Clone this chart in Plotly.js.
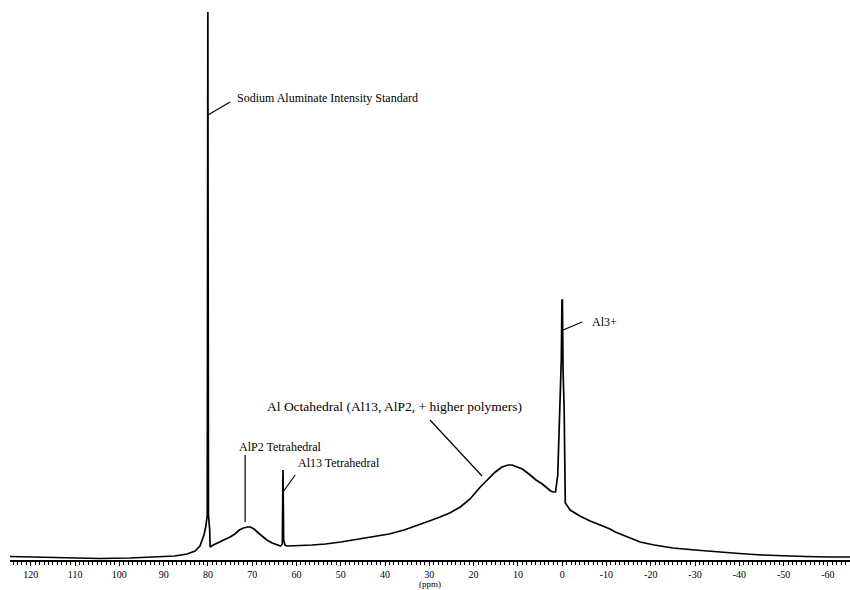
<!DOCTYPE html>
<html>
<head>
<meta charset="utf-8">
<script src="https://cdn.plot.ly/plotly-3.0.1.min.js"></script>
<style>html,body{margin:0;padding:0;background:#fff;}#chart{width:850px;height:590px;}</style>
</head>
<body>
<div id="chart"></div>
<script>
// Chemical shift (ppm) of the 27Al NMR spectrum
const ppm = [124.7,118.0,111.2,104.4,97.6,90.8,87.5,84.7,82.9,81.8,81.1,80.9,80.5,80.15,80.02,79.88,79.6,79.5,78.8,77.3,75.9,75.0,73.9,72.9,72.0,71.1,70.4,69.6,68.6,67.6,66.7,65.5,64.5,63.6,63.2,63.05,62.9,62.6,62.2,61.0,59.1,56.5,53.5,50.0,46.0,42.5,39.1,35.7,32.3,30.0,27.6,25.4,23.0,20.8,18.5,16.8,15.1,13.6,12.2,11.3,10.2,9.0,7.5,5.9,4.5,3.4,2.6,2.0,1.5,1.0,0.7,0.45,0.2,0.05,-0.05,-0.2,-0.45,-0.7,-1.8,-4.0,-6.3,-8.6,-10.8,-12.0,-14.7,-17.6,-20.8,-25,-30,-35,-40,-45,-50,-55,-60,-65];
// Intensity (arbitrary units)
const intensity = [3.5,3,2,1.5,2,3,4,6,9,14,22,25,33,45,548,45,30,13,15,18,21,23,26,30,32,33,33,31,27,23,20,17,15,14,16,90,20,15,14,14,14.5,15,16,18,21,23,26,30,35,39,43,47,53,61,73,81,88,93,95,95,93,91,86,80,76,72,69,68,68,85,130,175,200,260,260,190,150,57,50,44,39,35,31,28,23,18,15,12,10,8,6.5,5,4,3.5,3,3];

const tickVals = [120,110,100,90,80,70,60,50,40,30,20,10,0,-10,-20,-30,-40,-50,-60];
const tickText = ["120","110","100","90","80","70","60","50","40","30","20","10","0","-10","-20","-30","-40","-50","-60"];

// Peak labels: text, text anchor (ppm, intensity), leader line (from -> to)
const labelText = ["Sodium Aluminate Intensity Standard","AlP2 Tetrahedral","Al13 Tetrahedral","Al Octahedral (Al13, AlP2, + higher polymers)","Al3+"];
const labelSize = [12,12,12,13.5,12];
const labelX = [73.9,73.4,60.0,67.2,-6.3];
const labelY = [462,113,97,154,238];
const leadX0 = [80.0,71.6,63.05,18.1,-0.2];
const leadY0 = [445,38,68,84,230];
const leadX1 = [75.0,71.6,60.3,29.85,-4.5];
const leadY1 = [458,105,85,140,238];

const serif = "Liberation Serif, Times New Roman, serif";

const annotations = labelText.map((t,i)=>({
  x: labelX[i], y: labelY[i], xref:'x', yref:'y', text:t, showarrow:false,
  xanchor:'left', yanchor:'middle', font:{family:serif, size:labelSize[i], color:'#000'}
}));
const shapes = labelText.map((t,i)=>({
  type:'line', xref:'x', yref:'y', x0:leadX0[i], y0:leadY0[i], x1:leadX1[i], y1:leadY1[i],
  line:{color:'#000', width:1.2}
}));

const trace = {
  x: ppm, y: intensity, type:'scatter', mode:'lines',
  line:{color:'#000', width:1.7, shape:'linear'}, hoverinfo:'skip'
};

const layout = {
  width:850, height:590,
  margin:{l:10, r:0, t:10, b:30},
  paper_bgcolor:'#fff', plot_bgcolor:'#fff',
  showlegend:false,
  xaxis:{
    range:[124.7,-65], autorange:false,
    tickmode:'array', tickvals:tickVals, ticktext:tickText,
    ticks:'outside', ticklen:4, tickwidth:1, tickcolor:'#000',
    showline:true, linecolor:'#000', linewidth:1.5,
    showgrid:false, zeroline:false,
    tickfont:{family:serif, size:10, color:'#000'},
    minor:{dtick:1, ticks:'outside', ticklen:3, tickcolor:'#000', showgrid:false},
    title:{text:'(ppm)', font:{family:serif, size:9, color:'#000'}, standoff:1}
  },
  yaxis:{
    range:[0,550], autorange:false, visible:false, showgrid:false, zeroline:false
  },
  annotations: annotations,
  shapes: shapes
};

Plotly.newPlot('chart', [trace], layout, {displayModeBar:false, staticPlot:true});
</script>
</body>
</html>
